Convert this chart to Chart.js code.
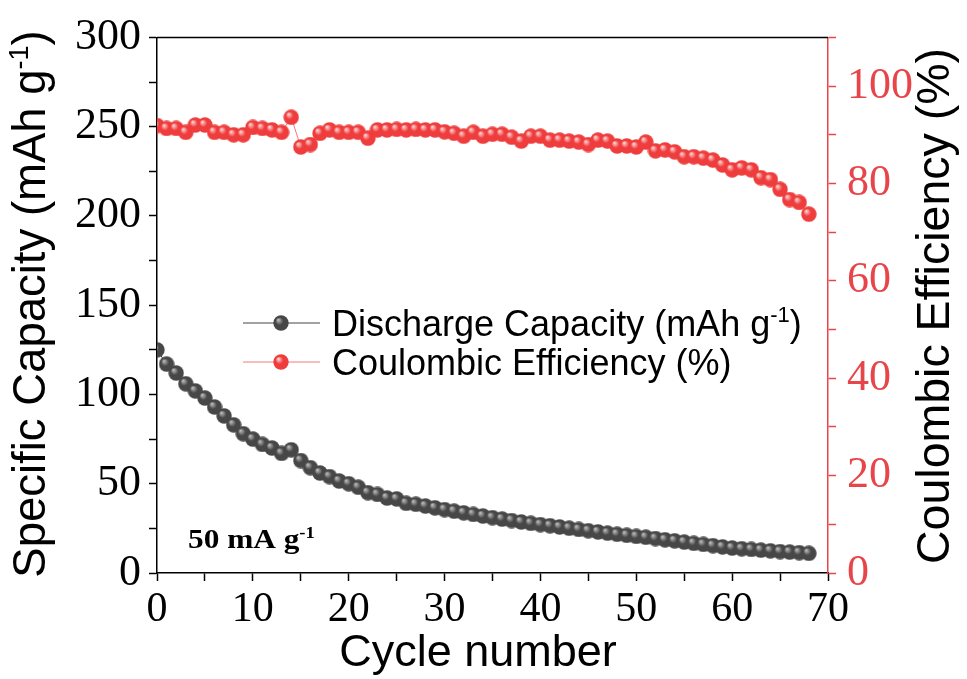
<!DOCTYPE html>
<html><head><meta charset="utf-8">
<style>html,body{margin:0;padding:0;background:#fff;overflow:hidden}</style>
<script src="https://cdn.jsdelivr.net/npm/chart.js@4.4.1/dist/chart.umd.min.js"></script>
</head><body>
<canvas id="c" width="967" height="679"></canvas>
<script>
const cycles = [0,1,2,3,4,5,6,7,8,9,10,11,12,13,14,15,16,17,18,19,20,21,22,23,24,25,26,27,28,29,30,31,32,33,34,35,36,37,38,39,40,41,42,43,44,45,46,47,48,49,50,51,52,53,54,55,56,57,58,59,60,61,62,63,64,65,66,67,68];
const dischargeCapacity = [125,117,112,106,102,98,93,88,83,78,75,72,70,67,69,63,59,56,54,51.5,50,48,45,44,42,41.5,39,38.5,37.5,36.5,35.5,34.6,33.7,32.8,31.9,31,30.2,29.4,28.6,27.8,27.1,26.5,25.8,25.1,24.4,23.7,23,22.3,21.7,21.1,20.5,20,19.3,18.6,18,17.3,16.6,16,15.3,14.6,14,13.6,13.2,12.8,12.4,12,11.7,11.4,11];
const coulombicEfficiency = [91.9,91.3,91.3,90.5,92,92,90.5,90.5,90,90,91.5,91.3,91,90.5,93.6,87.5,88,90.3,91,90.5,90.5,90.5,89.3,91,91,91.1,91,91.1,91,91,90.6,90.3,89.7,90.5,89.7,90.1,90.1,89.5,88.7,89.7,89.7,88.9,88.9,88.7,88.5,88,88.9,88.7,87.7,87.7,87.5,88.5,86.7,86.9,86.5,85.5,85.5,85.2,84.8,83.8,82.8,83.2,82.8,81.2,80.8,78.8,76.7,76.1,73.7];
const xTickLabels = [0,10,20,30,40,50,60,70];
const leftTickLabels = [0,50,100,150,200,250,300];
const rightTickLabels = [0,20,40,60,80,100];
const seriesNames = ['Discharge Capacity (mAh g', 'Coulombic Efficiency (%)'];
const xTitle = 'Cycle number';
const leftTitle = 'Specific Capacity (mAh g';
const rightTitle = 'Coulombic Efficiency (%)';
const noteText = '50 mA g';

const RED = '#ef3c3c';
const AXRED = '#e8454a';
const GRAY = '#474747';

function sphere(base, light, r) {
  const c = document.createElement('canvas');
  c.width = c.height = 2 * r;
  const g = c.getContext('2d');
  const grad = g.createRadialGradient(r * 0.65, r * 0.6, r * 0.05, r, r, r);
  grad.addColorStop(0, light);
  grad.addColorStop(0.45, base);
  grad.addColorStop(1, base);
  g.fillStyle = grad;
  g.beginPath(); g.arc(r, r, r - 0.3, 0, Math.PI * 2); g.fill();
  return c;
}
const grayBall = sphere(GRAY, '#bdbdbd', 8);
const redBall = sphere(RED, '#ffd6d6', 8);

function drawParts(ctx, parts, x, y, size, family, color, weight) {
  const w = weight ? weight + ' ' : '';
  let cx = x;
  for (const p of parts) {
    ctx.fillStyle = color;
    if (p.sup) {
      ctx.font = w + Math.round(size * 0.6) + 'px ' + family;
      ctx.fillText(p.t, cx, y - size * 0.38);
    } else {
      ctx.font = w + size + 'px ' + family;
      ctx.fillText(p.t, cx, y);
    }
    cx += ctx.measureText(p.t).width;
  }
  return cx - x;
}
function partsWidth(ctx, parts, size, family) {
  let w = 0;
  for (const p of parts) {
    ctx.font = (p.sup ? Math.round(size * 0.6) : size) + 'px ' + family;
    w += ctx.measureText(p.t).width;
  }
  return w;
}

const SANS = '"Liberation Sans", Arial, sans-serif';
const SERIF = '"Liberation Serif", "Times New Roman", serif';

const decor = {
  id: 'decor',
  afterDraw(chart) {
    const ctx = chart.ctx;
    const a = chart.chartArea;
    ctx.save();
    ctx.strokeStyle = '#000'; ctx.lineWidth = 1.5;
    ctx.beginPath(); ctx.moveTo(a.left, a.top); ctx.lineTo(a.right, a.top); ctx.stroke();
    ctx.textBaseline = 'alphabetic'; ctx.textAlign = 'left';

    // x title
    ctx.font = '45px ' + SANS; ctx.fillStyle = '#000';
    const xw = ctx.measureText(xTitle).width;
    ctx.fillText(xTitle, 478 - xw / 2, 666);

    // left title
    const lp = [{t: leftTitle}, {t: '-1', sup: true}, {t: ')'}];
    const lw = partsWidth(ctx, lp, 45.5, SANS);
    ctx.save(); ctx.translate(45, 304); ctx.rotate(-Math.PI / 2);
    drawParts(ctx, lp, -lw / 2, 0, 45.5, SANS, '#000');
    ctx.restore();

    // right title
    const rp = [{t: rightTitle}];
    const rw = partsWidth(ctx, rp, 46.5, SANS);
    ctx.save(); ctx.translate(949, 306); ctx.rotate(-Math.PI / 2);
    drawParts(ctx, rp, -rw / 2, 0, 46.5, SANS, '#000');
    ctx.restore();

    // note
    ctx.save(); ctx.translate(188, 548); ctx.scale(1.16, 1);
    drawParts(ctx, [{t: noteText}, {t: '-1', sup: true}], 0, 0, 27, SERIF, '#000', '600');
    ctx.restore();

    // legend
    const rows = [
      {y: 323, base: 336, img: grayBall, line: '#444', parts: [{t: seriesNames[0]}, {t: '-1', sup: true}, {t: ')'}]},
      {y: 362, base: 375, img: redBall, line: '#f07a7a', parts: [{t: seriesNames[1]}]}
    ];
    for (const r of rows) {
      ctx.strokeStyle = r.line; ctx.lineWidth = 1;
      ctx.beginPath(); ctx.moveTo(243, r.y); ctx.lineTo(320, r.y); ctx.stroke();
      ctx.drawImage(r.img, 281 - 8, r.y - 8);
      drawParts(ctx, r.parts, 332, r.base, 36, SANS, '#000');
    }
    ctx.restore();
  }
};

new Chart(document.getElementById('c'), {
  type: 'line',
  data: {
    datasets: [
      {
        label: seriesNames[0],
        data: cycles.map((c, i) => ({x: c, y: dischargeCapacity[i]})),
        yAxisID: 'y',
        borderColor: '#333', borderWidth: 1,
        pointStyle: grayBall, pointRadius: 8,
        showLine: true
      },
      {
        label: seriesNames[1],
        data: cycles.map((c, i) => ({x: c, y: coulombicEfficiency[i]})),
        yAxisID: 'y1',
        borderColor: '#f07a7a', borderWidth: 1,
        pointStyle: redBall, pointRadius: 8,
        showLine: true
      }
    ]
  },
  options: {
    responsive: false,
    animation: false,
    devicePixelRatio: 1,
    layout: {padding: {top: 31, left: 0, right: 0, bottom: 0}},
    plugins: {legend: {display: false}, tooltip: {enabled: false}},
    scales: {
      x: {
        type: 'linear', position: 'bottom', min: 0, max: 70,
        afterFit: s => { s.height = 106; },
        ticks: {stepSize: 5, autoSkip: false, maxRotation: 0, padding: 4, color: '#000',
          font: {family: SERIF, size: 42},
          callback: v => xTickLabels.includes(v) ? String(v) : ''},
        grid: {drawOnChartArea: false, tickLength: 8, color: '#000', tickWidth: 1.5},
        border: {color: '#000', width: 1.5}
      },
      y: {
        type: 'linear', position: 'left', min: 0, max: 300,
        afterFit: s => { s.width = 157; },
        ticks: {stepSize: 25, autoSkip: false, padding: 8, color: '#000',
          font: {family: SERIF, size: 44},
          callback: v => leftTickLabels.includes(v) ? String(v) : ''},
        grid: {drawOnChartArea: false, tickLength: 8, color: '#000', tickWidth: 1.5},
        border: {color: '#000', width: 1.5}
      },
      y1: {
        type: 'linear', position: 'right', min: 0, max: 110,
        afterFit: s => { s.width = 139; },
        ticks: {stepSize: 10, autoSkip: false, padding: 11, color: AXRED,
          font: {family: SERIF, size: 44},
          callback: v => rightTickLabels.includes(v) ? String(v) : ''},
        grid: {drawOnChartArea: false, tickLength: 8, color: AXRED, tickWidth: 1.5},
        border: {color: AXRED, width: 1.5}
      }
    }
  },
  plugins: [decor]
});
</script>
</body></html>
